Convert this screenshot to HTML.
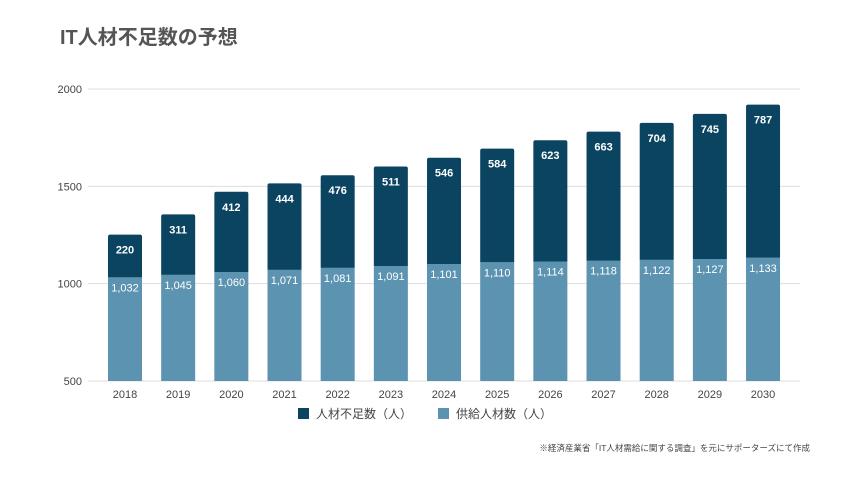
<!DOCTYPE html>
<html><head><meta charset="utf-8"><style>
body{margin:0;background:#fff;width:853px;height:473px;overflow:hidden;font-family:"Liberation Sans","Noto Sans CJK JP",sans-serif}
</style></head><body>
<svg width="853" height="473">
<text x="60" y="44" font-size="20" font-weight="bold" fill="#555" font-family="Liberation Sans, Noto Sans CJK JP, sans-serif">IT人材不足数の予想</text>
<g id="grid"></g><g id="bars"></g>
<g>
<rect x="298" y="408" width="11" height="11" fill="#0b4461"/>
<text x="316" y="418" font-size="12" fill="#444">人材不足数（人）</text>
<rect x="438" y="408" width="11" height="11" fill="#5b93b1"/>
<text x="456" y="418" font-size="12" fill="#444">供給人材数（人）</text>
</g>
<text x="810" y="451" font-size="8.5" fill="#444" text-anchor="end">※経済産業省「IT人材需給に関する調査」を元にサポーターズにて作成</text>
</svg>
<script>
const categories=["2018","2019","2020","2021","2022","2023","2024","2025","2026","2027","2028","2029","2030"];
const supply=[1032,1045,1060,1071,1081,1091,1101,1110,1114,1118,1122,1127,1133];
const shortage=[220,311,412,444,476,511,546,584,623,663,704,745,787];
const yTicks=[500,1000,1500,2000];
const NS="http://www.w3.org/2000/svg";
const y=v=>381-(v-500)*(292/1500);
const x=i=>125+i*53.17;
function mk(t,a,p){const e=document.createElementNS(NS,t);for(const k in a)e.setAttribute(k,a[k]);p.appendChild(e);return e;}
const g=document.getElementById('grid'),b=document.getElementById('bars');
yTicks.forEach(t=>{
const l=mk('line',{x1:88,x2:800,y1:y(t),y2:y(t),stroke:'#ddd','stroke-width':1},g);


const tx=mk('text',{x:82,y:y(t)+4,'font-size':11,fill:'#444','text-anchor':'end'},g);


tx.textContent=t;
});
categories.forEach((c,i)=>{
const cx=x(i),w=34,top=y(supply[i]+shortage[i]),mid=y(supply[i]);
const r1=mk('rect',{x:cx-w/2,y:mid,width:w,height:381-mid,fill:'#5b93b1'},b);


const r2=mk('path',{d:`M${cx-w/2},${mid}V${top+2}Q${cx-w/2},${top} ${cx-w/2+2},${top}H${cx+w/2-2}Q${cx+w/2},${top} ${cx+w/2},${top+2}V${mid}Z`,fill:'#0b4461'},b);


const t1=mk('text',{x:cx,y:mid+14,'font-size':11,fill:'#fff','text-anchor':'middle'},b);


t1.textContent=supply[i].toLocaleString('en-US');
const t2=mk('text',{x:cx,y:top+19,'font-size':11,fill:'#fff','text-anchor':'middle','font-weight':'bold'},b);


t2.textContent=shortage[i];
const t3=mk('text',{x:cx,y:398,'font-size':11,fill:'#444','text-anchor':'middle'},b);


t3.textContent=c;
});
</script>
</body></html>
